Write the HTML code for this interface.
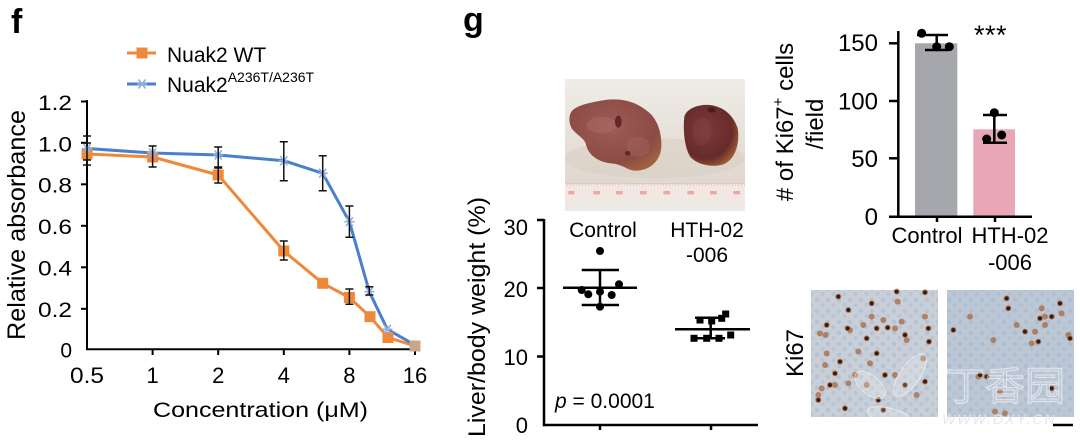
<!DOCTYPE html>
<html><head><meta charset="utf-8">
<style>
html,body{margin:0;padding:0;background:#fff;}
svg{display:block;font-family:"Liberation Sans","Noto Sans CJK SC",sans-serif;}
</style></head><body>
<svg width="1080" height="442" viewBox="0 0 1080 442" xmlns="http://www.w3.org/2000/svg">
<defs>
 <pattern id="nuc" width="11" height="11" patternUnits="userSpaceOnUse">
  <circle cx="3" cy="3" r="2.2" fill="#9fb1cb" opacity="0.45"/>
  <circle cx="8.5" cy="8" r="2" fill="#9fb1cb" opacity="0.35"/>
 </pattern>
 <pattern id="rul" width="9" height="60" patternUnits="userSpaceOnUse">
  <line x1="2" y1="24" x2="2" y2="32" stroke="#eba39b" stroke-width="1.5"/>
 </pattern>
 <linearGradient id="bg" x1="0" y1="0" x2="0" y2="1">
  <stop offset="0" stop-color="#efece7"/><stop offset="0.7" stop-color="#e2dad1"/><stop offset="1" stop-color="#dcd3ca"/>
 </linearGradient>
 <radialGradient id="liv1" cx="0.45" cy="0.4" r="0.65">
  <stop offset="0" stop-color="#9e5c57"/><stop offset="0.75" stop-color="#8c4b45"/><stop offset="1" stop-color="#a0613f"/>
 </radialGradient>
 <radialGradient id="liv2" cx="0.4" cy="0.4" r="0.65">
  <stop offset="0" stop-color="#7a3a38"/><stop offset="0.75" stop-color="#672b2b"/><stop offset="1" stop-color="#9a5a35"/>
 </radialGradient>
</defs>

<!-- ================= Panel f ================= -->
<text x="11" y="33" font-size="34" font-weight="bold">f</text>

<line x1="127" y1="53" x2="156" y2="53" stroke="#f0883a" stroke-width="3"/>
<rect x="136.5" y="47.5" width="11" height="11" fill="#f0883a"/>
<text x="167" y="62" font-size="21">Nuak2 WT</text>
<line x1="127" y1="84" x2="156" y2="84" stroke="#4a7fcc" stroke-width="3"/>
<g stroke="#8fb0e0" stroke-width="1.6">
 <line x1="137" y1="84" x2="147" y2="84"/><line x1="138.5" y1="79.5" x2="145.5" y2="88.5"/><line x1="145.5" y1="79.5" x2="138.5" y2="88.5"/>
</g>
<text x="167" y="92" font-size="21">Nuak2<tspan font-size="14" dy="-10">A236T/A236T</tspan></text>

<g stroke="#000" stroke-width="2">
 <line x1="87" y1="100" x2="87" y2="350"/>
 <line x1="86" y1="349.3" x2="418" y2="349.3"/>
 <line x1="81" y1="101.5" x2="87" y2="101.5"/>
 <line x1="81" y1="142.8" x2="87" y2="142.8"/>
 <line x1="81" y1="184.3" x2="87" y2="184.3"/>
 <line x1="81" y1="225.8" x2="87" y2="225.8"/>
 <line x1="81" y1="267.3" x2="87" y2="267.3"/>
 <line x1="81" y1="308.8" x2="87" y2="308.8"/>
 <line x1="152.6" y1="349" x2="152.6" y2="355"/>
 <line x1="218.2" y1="349" x2="218.2" y2="355"/>
 <line x1="283.8" y1="349" x2="283.8" y2="355"/>
 <line x1="349.4" y1="349" x2="349.4" y2="355"/>
 <line x1="415" y1="349" x2="415" y2="355"/>
</g>
<g font-size="21" text-anchor="end">
 <text x="72" y="110" textLength="34" lengthAdjust="spacingAndGlyphs">1.2</text>
 <text x="72" y="151.5" textLength="34" lengthAdjust="spacingAndGlyphs">1.0</text>
 <text x="72" y="192.5" textLength="34" lengthAdjust="spacingAndGlyphs">0.8</text>
 <text x="72" y="234" textLength="34" lengthAdjust="spacingAndGlyphs">0.6</text>
 <text x="72" y="275.5" textLength="34" lengthAdjust="spacingAndGlyphs">0.4</text>
 <text x="72" y="317" textLength="34" lengthAdjust="spacingAndGlyphs">0.2</text>
 <text x="72" y="357.5">0</text>
</g>
<g font-size="22" text-anchor="middle">
 <text x="87" y="383" textLength="34" lengthAdjust="spacingAndGlyphs">0.5</text>
 <text x="152.6" y="383">1</text>
 <text x="218.2" y="383">2</text>
 <text x="283.8" y="383">4</text>
 <text x="349.4" y="383">8</text>
 <text x="415" y="383">16</text>
</g>
<text x="260.5" y="417" font-size="21" text-anchor="middle" textLength="215" lengthAdjust="spacingAndGlyphs">Concentration (μM)</text>
<text transform="translate(25,225) rotate(-90)" font-size="25" text-anchor="middle" textLength="230" lengthAdjust="spacingAndGlyphs">Relative absorbance</text>

<polyline fill="none" stroke="#f0883a" stroke-width="3" stroke-linejoin="round" points="87,154 152.6,157 218.2,175 283.8,251 322.7,283.3 349.4,297.5 370,316.7 388,337.5 415,346"/>
<polyline fill="none" stroke="#4a7fcc" stroke-width="3" stroke-linejoin="round" points="87,148.5 152.6,153 218.2,155 283.8,160.7 322.7,173.3 349.4,221.7 369.3,291.7 387.3,329.3 415,345"/>
<g fill="#f0883a">
 <rect x="81.5" y="148.5" width="11" height="11"/>
 <rect x="147.1" y="151.5" width="11" height="11"/>
 <rect x="212.7" y="169.5" width="11" height="11"/>
 <rect x="278.3" y="245.5" width="11" height="11"/>
 <rect x="317.2" y="277.8" width="11" height="11"/>
 <rect x="343.9" y="292" width="11" height="11"/>
 <rect x="364.5" y="311.2" width="11" height="11"/>
 <rect x="382.5" y="332" width="11" height="11"/>
 <rect x="409.5" y="340.5" width="11" height="11" fill="#c9a58a"/>
</g>
<g stroke="#8fb0e0" stroke-width="1.6">
 <path d="M82,148.5h10M83.5,144l7,9M90.5,144l-7,9"/>
 <path d="M147.6,153h10M149.1,148.5l7,9M156.1,148.5l-7,9"/>
 <path d="M213.2,155h10M214.7,150.5l7,9M221.7,150.5l-7,9"/>
 <path d="M278.8,160.7h10M280.3,156.2l7,9M287.3,156.2l-7,9"/>
 <path d="M317.7,173.3h10M319.2,168.8l7,9M326.2,168.8l-7,9"/>
 <path d="M344.4,221.7h10M345.9,217.2l7,9M352.9,217.2l-7,9"/>
 <path d="M364.3,291.7h10M365.8,287.2l7,9M372.8,287.2l-7,9"/>
 <path d="M382.3,329.3h10M383.8,324.8l7,9M390.8,324.8l-7,9"/>
</g>
<g stroke="#111" stroke-width="1.5" fill="none">
 <path d="M87,136v29M83,136h8M83,143h8M83,160h8M83,165h8"/>
 <path d="M152.6,146v21M148.6,146h8M148.6,167h8"/>
 <path d="M218.2,147v20M214.2,147h8M214.2,167h8"/>
 <path d="M218.2,168v15M214.2,168h8M214.2,183h8"/>
 <path d="M283.8,141.7v39M279.8,141.7h8M279.8,180.7h8"/>
 <path d="M283.8,241v19M279.8,241h8M279.8,260h8"/>
 <path d="M322.7,155.7v35M318.7,155.7h8M318.7,190.7h8"/>
 <path d="M349.4,206v31.3M345.4,206h8M345.4,237.3h8"/>
 <path d="M349.4,289v15.3M345.4,289h8M345.4,304.3h8"/>
 <path d="M369.3,286.7v8.3M365.3,286.7h8M365.3,295h8"/>
</g>

<!-- ================= Panel g ================= -->
<text x="463" y="31" font-size="34" font-weight="bold">g</text>

<g transform="translate(555,75) scale(0.33333)">
 <rect x="30" y="12" width="540" height="396" fill="url(#bg)"/>
 <ellipse cx="300" cy="250" rx="270" ry="60" fill="#d8cfc5" opacity="0.6"/>
 <rect x="30" y="325" width="540" height="60" fill="#f1e8e4"/>
 <line x1="30" y1="326" x2="570" y2="326" stroke="#d9cec8" stroke-width="3"/>
 <rect x="30" y="325" width="540" height="60" fill="url(#rul)"/>
 <g fill="#eea79f">
  <rect x="40" y="348" width="18" height="10"/><rect x="115" y="348" width="20" height="10"/>
  <rect x="183" y="348" width="20" height="10"/><rect x="255" y="348" width="20" height="10"/>
  <rect x="325" y="348" width="20" height="10"/><rect x="397" y="348" width="20" height="10"/>
  <rect x="465" y="348" width="20" height="10"/><rect x="535" y="348" width="20" height="10"/>
 </g>
 <rect x="30" y="385" width="540" height="23" fill="#eeebe7"/>
 <path d="M45,120 C50,95 90,85 150,75 C200,68 250,80 290,120 C315,150 322,190 318,225 C312,262 280,288 240,287 C215,285 205,270 175,266 C135,262 100,245 92,205 C88,190 65,180 50,160 C42,145 42,130 45,120 Z" fill="url(#liv1)"/>
 <ellipse cx="140" cy="150" rx="45" ry="25" fill="#b77c76" opacity="0.3"/>
 <ellipse cx="250" cy="215" rx="35" ry="30" fill="#b07a70" opacity="0.25"/>
 <ellipse cx="190" cy="140" rx="10" ry="18" fill="#6a2224"/>
 <ellipse cx="218" cy="235" rx="8" ry="7" fill="#5a2a24"/>
 <path d="M388,125 C395,100 430,88 465,90 C505,95 535,120 548,160 C556,205 540,255 505,268 C470,278 430,270 408,248 C390,225 383,170 388,125 Z" fill="url(#liv2)"/>
 <ellipse cx="440" cy="170" rx="28" ry="42" fill="#8c4a48" opacity="0.3"/>
 <ellipse cx="470" cy="105" rx="12" ry="8" fill="#4e1a1a"/>
</g>

<g stroke="#000" stroke-width="2.5">
 <line x1="544" y1="219" x2="544" y2="426.2"/>
 <line x1="543" y1="425" x2="758" y2="425"/>
 <line x1="537" y1="220" x2="544" y2="220"/>
 <line x1="537" y1="288" x2="544" y2="288"/>
 <line x1="537" y1="356.5" x2="544" y2="356.5"/>
 <line x1="600" y1="425" x2="600" y2="430"/>
 <line x1="711" y1="425" x2="711" y2="430"/>
</g>
<g font-size="22" text-anchor="end">
 <text x="528" y="235">30</text>
 <text x="528" y="297">20</text>
 <text x="528" y="365">10</text>
 <text x="528" y="433">0</text>
</g>
<g font-size="21" text-anchor="middle">
 <text x="603" y="237">Control</text>
 <text x="707" y="237">HTH-02</text>
 <text x="707" y="262">-006</text>
</g>
<text transform="translate(485,317) rotate(-90)" font-size="24" text-anchor="middle" textLength="240" lengthAdjust="spacingAndGlyphs">Liver/body weight (%)</text>
<text x="555" y="408" font-size="21"><tspan font-style="italic">p</tspan> = 0.0001</text>

<g stroke="#000" stroke-width="2.5">
 <line x1="563" y1="287.7" x2="637" y2="287.7"/>
 <line x1="581.7" y1="270" x2="619" y2="270"/>
 <line x1="581.7" y1="305" x2="619" y2="305"/>
 <line x1="600" y1="270" x2="600" y2="305"/>
 <line x1="675" y1="329.3" x2="750" y2="329.3"/>
 <line x1="695" y1="317.7" x2="725" y2="317.7"/>
 <line x1="695" y1="338.3" x2="725" y2="338.3"/>
 <line x1="710.7" y1="317.7" x2="710.7" y2="338.3"/>
</g>
<g fill="#000">
 <circle cx="600" cy="251" r="4"/>
 <circle cx="581.7" cy="290" r="4"/>
 <circle cx="588.3" cy="294.3" r="4"/>
 <circle cx="600" cy="291.7" r="4"/>
 <circle cx="611.7" cy="295" r="4"/>
 <circle cx="619" cy="284.3" r="4"/>
 <circle cx="600" cy="306.7" r="4"/>
 <rect x="696.5" y="316.5" width="7" height="7"/>
 <rect x="708.2" y="317.5" width="7" height="7"/>
 <rect x="722.2" y="310.5" width="7" height="7"/>
 <rect x="718.2" y="314.8" width="7" height="7"/>
 <rect x="690.5" y="334.8" width="7" height="7"/>
 <rect x="703.2" y="334.8" width="7" height="7"/>
 <rect x="715.5" y="334.8" width="7" height="7"/>
 <rect x="727.2" y="331.5" width="7" height="7"/>
</g>

<!-- ================= Bar chart ================= -->
<rect x="915" y="43.3" width="42.3" height="173.4" fill="#a5a7ac"/>
<rect x="973.3" y="129.3" width="41.7" height="87.4" fill="#e9a7b6"/>
<g stroke="#000" stroke-width="2.5">
 <line x1="898.3" y1="31" x2="898.3" y2="218"/>
 <line x1="889" y1="216.7" x2="1032" y2="216.7"/>
 <line x1="889" y1="43.3" x2="898.3" y2="43.3"/>
 <line x1="889" y1="101" x2="898.3" y2="101"/>
 <line x1="889" y1="158.3" x2="898.3" y2="158.3"/>
 <line x1="937" y1="216.7" x2="937" y2="222"/>
 <line x1="995" y1="216.7" x2="995" y2="222"/>
 <line x1="936.7" y1="35" x2="936.7" y2="50"/>
 <line x1="917" y1="35" x2="948" y2="35"/>
 <line x1="925" y1="50" x2="948" y2="50"/>
 <line x1="994.3" y1="115" x2="994.3" y2="142.7"/>
 <line x1="983" y1="115" x2="1007" y2="115"/>
 <line x1="983" y1="142.7" x2="1007" y2="142.7"/>
</g>
<g fill="#000">
 <circle cx="921.7" cy="33.3" r="4.5"/>
 <circle cx="936.7" cy="46.7" r="4.5"/>
 <circle cx="949.3" cy="46.7" r="4.5"/>
 <circle cx="994.3" cy="112.7" r="4.5"/>
 <circle cx="986.7" cy="139" r="4.5"/>
 <circle cx="1001.7" cy="135" r="4.5"/>
</g>
<text x="974" y="44" font-size="27" letter-spacing="0.5">***</text>
<g font-size="24" text-anchor="end">
 <text x="878" y="51">150</text>
 <text x="878" y="109.5">100</text>
 <text x="878" y="167">50</text>
 <text x="878" y="225">0</text>
</g>
<g font-size="22" text-anchor="middle">
 <text x="927" y="243">Control</text>
 <text x="1010" y="243">HTH-02</text>
 <text x="1010" y="270">-006</text>
</g>
<text transform="translate(793,122) rotate(-90)" font-size="24" text-anchor="middle"># of Ki67<tspan font-size="15" dy="-10">+</tspan><tspan dy="10"> cells</tspan></text>
<text transform="translate(823,124) rotate(-90)" font-size="24" text-anchor="middle">/field</text>

<!-- Ki67 images -->
<rect x="811" y="290" width="127" height="127" fill="#c8cfd8"/>
<rect x="811" y="290" width="127" height="127" fill="url(#nuc)"/>
<rect x="947" y="290" width="127" height="127" fill="#bcc7d5"/>
<rect x="947" y="290" width="127" height="127" fill="url(#nuc)"/>
<g transform="translate(805,285) scale(0.33333)">
 <g fill="#a9683f" opacity="0.75">
  <circle cx="100" cy="35" r="9"/><circle cx="200" cy="55" r="9"/><circle cx="275" cy="20" r="9"/><circle cx="360" cy="22" r="9"/>
  <circle cx="278" cy="50" r="9"/><circle cx="130" cy="75" r="9"/><circle cx="128" cy="130" r="9"/><circle cx="65" cy="120" r="9"/>
  <circle cx="45" cy="145" r="9"/><circle cx="62" cy="150" r="9"/><circle cx="185" cy="160" r="9"/><circle cx="235" cy="105" r="9"/>
  <circle cx="248" cy="128" r="9"/><circle cx="270" cy="130" r="9"/><circle cx="215" cy="130" r="9"/><circle cx="300" cy="150" r="9"/>
  <circle cx="305" cy="165" r="9"/><circle cx="370" cy="130" r="9"/><circle cx="372" cy="170" r="9"/><circle cx="160" cy="200" r="9"/>
  <circle cx="215" cy="205" r="9"/><circle cx="195" cy="235" r="9"/><circle cx="65" cy="205" r="9"/><circle cx="60" cy="240" r="9"/>
  <circle cx="105" cy="230" r="9"/><circle cx="90" cy="265" r="9"/><circle cx="75" cy="300" r="9"/><circle cx="90" cy="300" r="9"/>
  <circle cx="50" cy="310" r="9"/><circle cx="40" cy="345" r="9"/><circle cx="120" cy="370" r="9"/><circle cx="130" cy="295" r="9"/>
  <circle cx="240" cy="270" r="9"/><circle cx="270" cy="270" r="9"/><circle cx="355" cy="220" r="9"/><circle cx="360" cy="290" r="9"/>
  <circle cx="300" cy="300" r="9"/><circle cx="220" cy="345" r="9"/><circle cx="235" cy="375" r="9"/><circle cx="185" cy="300" r="9"/>
  <circle cx="335" cy="330" r="9"/><circle cx="150" cy="270" r="9"/><circle cx="200" cy="95" r="9"/><circle cx="175" cy="120" r="9"/>
  <circle cx="290" cy="110" r="9"/><circle cx="360" cy="95" r="9"/><circle cx="135" cy="135" r="9"/><circle cx="40" cy="330" r="9"/>
  <circle cx="605" cy="40" r="9"/><circle cx="610" cy="70" r="9"/><circle cx="495" cy="95" r="9"/><circle cx="445" cy="135" r="9"/>
  <circle cx="710" cy="70" r="9"/><circle cx="705" cy="100" r="9"/><circle cx="720" cy="95" r="9"/><circle cx="740" cy="95" r="9"/>
  <circle cx="765" cy="55" r="9"/><circle cx="660" cy="140" r="9"/><circle cx="690" cy="140" r="9"/><circle cx="700" cy="170" r="9"/>
  <circle cx="680" cy="175" r="9"/><circle cx="790" cy="150" r="9"/><circle cx="795" cy="160" r="9"/><circle cx="525" cy="270" r="9"/>
  <circle cx="545" cy="275" r="9"/><circle cx="520" cy="275" r="9"/><circle cx="585" cy="320" r="9"/><circle cx="570" cy="380" r="9"/>
  <circle cx="600" cy="385" r="9"/><circle cx="740" cy="310" r="9"/><circle cx="565" cy="165" r="9"/><circle cx="720" cy="120" r="9"/>
  <circle cx="635" cy="120" r="9"/><circle cx="770" cy="85" r="9"/>
 </g>
 <g fill="#3d1a0c">
  <circle cx="100" cy="35" r="6"/><circle cx="200" cy="55" r="6"/><circle cx="275" cy="20" r="6"/><circle cx="360" cy="22" r="6"/>
  <circle cx="130" cy="75" r="6"/><circle cx="128" cy="130" r="6"/><circle cx="65" cy="120" r="6"/><circle cx="185" cy="160" r="6"/>
  <circle cx="248" cy="128" r="6"/><circle cx="215" cy="130" r="6"/><circle cx="300" cy="150" r="6"/><circle cx="370" cy="130" r="6"/>
  <circle cx="372" cy="170" r="6"/><circle cx="215" cy="205" r="6"/><circle cx="105" cy="230" r="6"/><circle cx="90" cy="265" r="6"/>
  <circle cx="75" cy="300" r="6"/><circle cx="40" cy="345" r="6"/><circle cx="120" cy="370" r="6"/><circle cx="240" cy="270" r="6"/>
  <circle cx="360" cy="290" r="6"/><circle cx="300" cy="300" r="6"/><circle cx="220" cy="345" r="6"/><circle cx="235" cy="375" r="6"/>
  <circle cx="605" cy="40" r="6"/><circle cx="610" cy="70" r="6"/><circle cx="445" cy="135" r="6"/><circle cx="705" cy="100" r="6"/>
  <circle cx="740" cy="95" r="6"/><circle cx="765" cy="55" r="6"/><circle cx="660" cy="140" r="6"/><circle cx="700" cy="170" r="6"/>
  <circle cx="795" cy="160" r="6"/><circle cx="525" cy="270" r="6"/><circle cx="545" cy="275" r="6"/><circle cx="740" cy="310" r="6"/>
 </g>
 <g fill="#ffffff" fill-opacity="0.2" stroke="#ffffff" stroke-opacity="0.5" stroke-width="3">
  <ellipse cx="195" cy="300" rx="55" ry="28" transform="rotate(40 195 300)"/>
  <ellipse cx="315" cy="270" rx="75" ry="30" transform="rotate(-55 315 270)"/>
  <ellipse cx="255" cy="395" rx="70" ry="25" transform="rotate(15 255 395)"/>
 </g>
</g>
<text x="945" y="400" font-size="40" fill="#ffffff" fill-opacity="0.12" stroke="#ffffff" stroke-opacity="0.55" stroke-width="1">丁香园</text>
<text x="942" y="424" font-size="14" font-style="italic" fill="#e3e7ec" letter-spacing="2">WWW.DXY.CN</text>
<line x1="1053" y1="425" x2="1073" y2="425" stroke="#000" stroke-width="2.5"/>
<text transform="translate(803,353) rotate(-90)" font-size="24" text-anchor="middle">Ki67</text>
</svg>
</body></html>
